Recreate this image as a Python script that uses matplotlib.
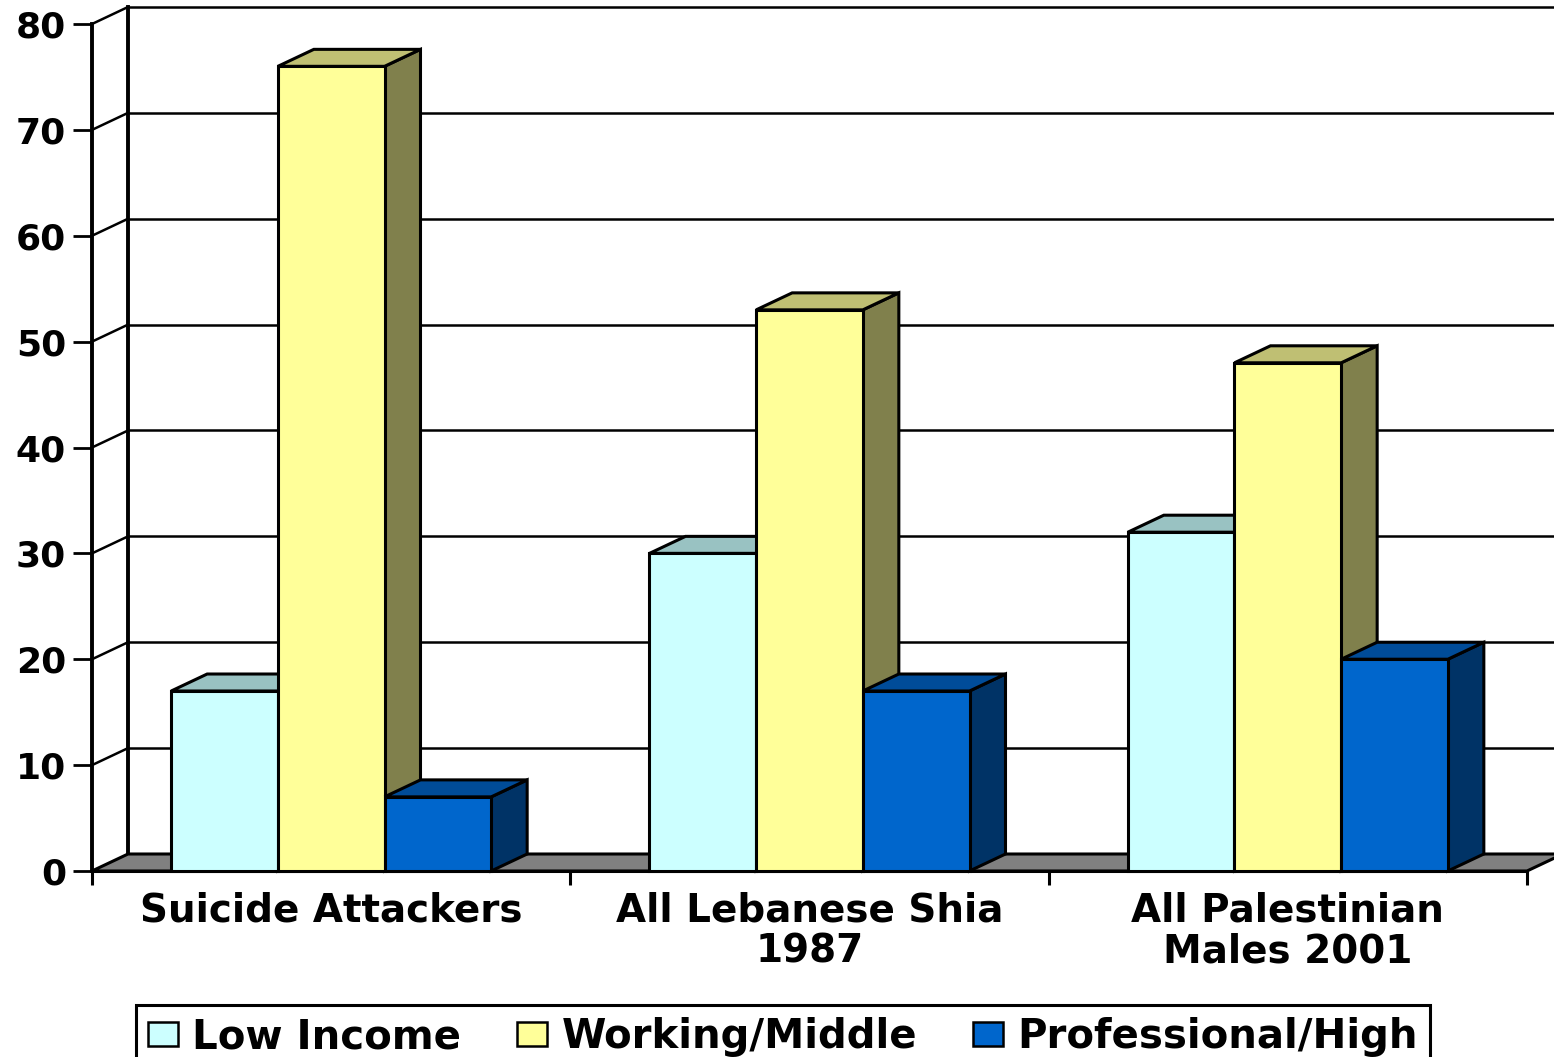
import matplotlib
matplotlib.use("Agg")
import matplotlib.pyplot as plt
from matplotlib.patches import Polygon, Patch

# income distribution (% of each population)
groups = ["Suicide Attackers", "All Lebanese Shia\n1987", "All Palestinian\nMales 2001"]
series = ["Low Income", "Working/Middle", "Professional/High"]
low_income = [17, 30, 32]
working_middle = [76, 53, 48]
professional_high = [7, 17, 20]

# (front, top, side) shades per series
shades = [("#CCFFFF", "#99C2C2", "#669999"),
          ("#FFFF99", "#BFBF73", "#80804C"),
          ("#0066CC", "#004C99", "#003366")]

W, H, DPI = 1554, 1057, 100
fig = plt.figure(figsize=(W / DPI, H / DPI), dpi=DPI)
ax = fig.add_axes([92 / W, 186 / H, (1527 - 92) / W, (1033 - 186) / H])
ax.set_xlim(0, 3)
ax.set_ylim(0, 80)

# depth of the 3-D box in data units (about 36 px right, 17 px up)
DX = 36 / ((1527 - 92) / 3)
DY = 17 / ((1033 - 186) / 80)
BAR_W = 0.223
LW = 2.2
n_cat = len(groups)

# back wall gridlines + the slanted lines on the side wall
for v in range(10, 90, 10):
    ax.plot([DX, n_cat + DX], [v + DY, v + DY], color="black", lw=1.8,
            zorder=1, clip_on=False, solid_capstyle="butt")
    ax.plot([0, DX], [v, v + DY], color="black", lw=1.8, zorder=1, clip_on=False)
ax.plot([DX, DX], [DY, 80 + DY], color="black", lw=LW + 0.6, zorder=1, clip_on=False)

# floor
ax.add_patch(Polygon([(0, 0), (n_cat, 0), (n_cat + DX, DY), (DX, DY)], closed=True,
                     facecolor="#808080", edgecolor="black", lw=LW, zorder=2,
                     clip_on=False))


def box(x0, h, cols, z):
    x1 = x0 + BAR_W
    front, top, side = cols
    kw = dict(closed=True, edgecolor="black", lw=LW, clip_on=False,
              joinstyle="miter")
    ax.add_patch(Polygon([(x1, 0), (x1 + DX, DY), (x1 + DX, h + DY), (x1, h)],
                         facecolor=side, zorder=z, **kw))
    ax.add_patch(Polygon([(x0, h), (x1, h), (x1 + DX, h + DY), (x0 + DX, h + DY)],
                         facecolor=top, zorder=z, **kw))
    ax.add_patch(Polygon([(x0, 0), (x1, 0), (x1, h), (x0, h)],
                         facecolor=front, zorder=z + 0.1, **kw))


z = 3
for i in range(n_cat):
    for j, vals in enumerate([low_income, working_middle, professional_high]):
        x0 = i + 0.5 + (j - 1.5) * BAR_W
        box(x0, vals[i], shades[j], z)
        z += 0.2

for s in ["top", "right"]:
    ax.spines[s].set_visible(False)
ax.spines["left"].set_linewidth(LW + 0.6)
ax.spines["bottom"].set_linewidth(LW)
ax.spines["left"].set_zorder(1.5)
ax.set_facecolor("none")

tick_font = dict(family="DejaVu Sans", weight="bold")
ax.set_yticks(range(0, 90, 10))
ax.set_yticklabels([str(v) for v in range(0, 90, 10)], fontsize=26, **tick_font)
ax.tick_params(axis="y", length=13.7, width=2, pad=5)

ax.set_xticks(range(n_cat + 1))
ax.set_xticklabels([])
ax.tick_params(axis="x", which="major", length=10, width=2.2)
ax.set_xticks([i + 0.5 for i in range(n_cat)], minor=True)
ax.set_xticklabels(groups, minor=True, fontsize=28, linespacing=1.1, **tick_font)
ax.tick_params(axis="x", which="minor", length=0, pad=15)

handles = [Patch(facecolor=c[0], edgecolor="black", lw=1.8) for c in shades]
leg = fig.legend(handles, series, loc="upper left", ncol=3, mode="expand",
                 bbox_to_anchor=(136 / W, 0, (1430 - 136) / W, 1 - 1005 / H),
                 prop=dict(family="DejaVu Sans", weight="bold", size=29),
                 frameon=True, fancybox=False, framealpha=1,
                 handlelength=0.75, handleheight=0.55,
                 handletextpad=0.35, borderpad=0.3, borderaxespad=0)
leg.get_frame().set_edgecolor("black")
leg.get_frame().set_linewidth(2.2)

fig.savefig("out.png", dpi=DPI)
